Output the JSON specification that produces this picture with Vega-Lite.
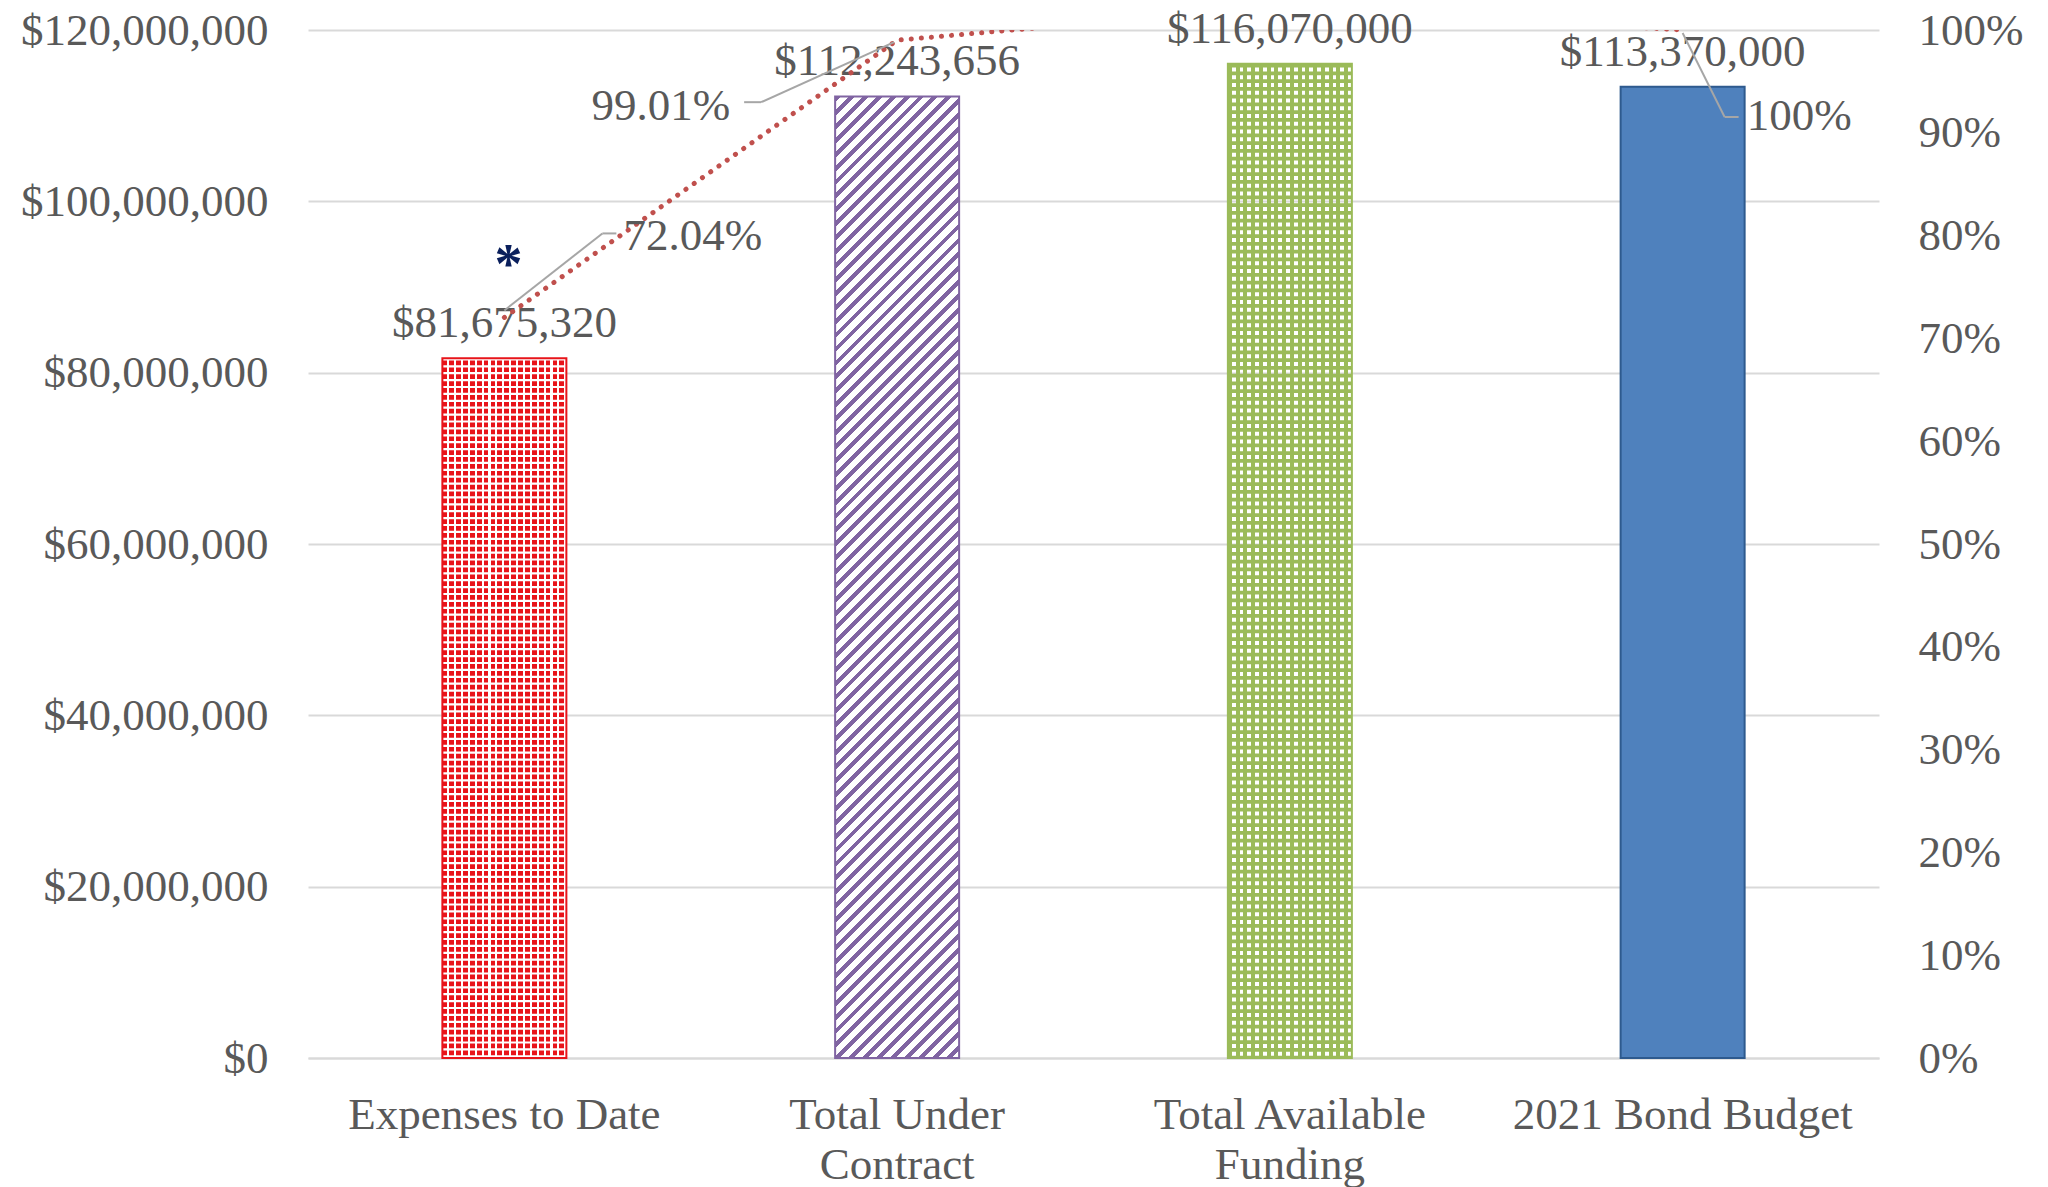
{
"$schema":"https://vega.github.io/schema/vega-lite/v6.json",
"width":1571,"height":1028,"autosize":"none",
"padding":{"left":308,"top":30,"right":169,"bottom":129},
"background":"white",
"config":{"view":{"stroke":null},"font":"Liberation Serif"},
"data":{"values":[
{"idx":1,"cat":"Expenses to Date","amount":81675320,"pct":0.7204,"pctLabel":"72.04%"},
{"idx":2,"cat":"Total Under Contract","amount":112243656,"pct":0.9901,"pctLabel":"99.01%"},
{"idx":3,"cat":"Total Available Funding","amount":116070000,"pct":1.0238,"pctLabel":""},
{"idx":4,"cat":"2021 Bond Budget","amount":113370000,"pct":1.0,"pctLabel":"100%"}
]},
"encoding":{"x":{"field":"cat","type":"nominal",
"scale":{"type":"band","domain":["Expenses to Date","Total Under Contract","Total Available Funding","2021 Bond Budget"],"paddingInner":0.1,"paddingOuter":0.05},
"axis":{"title":null,"labelAngle":0,"labelFont":"Liberation Serif","labelFontSize":45,"labelColor":"#595959","labelPadding":34,"labelLineHeight":50,"ticks":false,"domain":true,"domainColor":"#D9D9D9","domainWidth":2,"labelLimit":600,"labelOverlap":false,
"labelExpr":"datum.value == 'Total Under Contract' ? ['Total Under', 'Contract'] : datum.value == 'Total Available Funding' ? ['Total Available', 'Funding'] : datum.label"}}},
"layer":[
{"encoding":{"y":{"field":"amount","type":"quantitative","scale":{"domain":[0,120000000],"nice":false,"zero":true},
 "axis":{"title":null,"values":[0,20000000,40000000,60000000,80000000,100000000,120000000],"format":"$,.0f","labelFont":"Liberation Serif","labelFontSize":45,"labelColor":"#595959","labelPadding":40,"ticks":false,"domain":false,"grid":true,"gridColor":"#D9D9D9","gridWidth":2,"labelLimit":600,"labelOverlap":false,"labelFlush":false}}},
"layer":[
{"transform":[{"filter":"datum.cat == 'Expenses to Date'"}],
 "mark":{"type":"bar","size":124,"fill":"#E8141A"}},
{"transform":[{"filter":"datum.cat == 'Expenses to Date'"}],
 "mark":{"type":"rule","stroke":"#ffffff","strokeWidth":124,"strokeDash":[2.2,4.7]},
 "encoding":{"y2":{"datum":0}}},
{"transform":[{"filter":"datum.cat == 'Expenses to Date'"}],
 "mark":{"type":"bar","size":124,"fill":{"gradient":"linear","x1":0,"y1":0,"x2":1,"y2":0,"stops":[
{"offset":0,"color":"rgba(255,255,255,0)"},{"offset":0.0378,"color":"rgba(255,255,255,0)"},{"offset":0.0378,"color":"#fff"},{"offset":0.0556,"color":"#fff"},
{"offset":0.0556,"color":"rgba(255,255,255,0)"},{"offset":0.0933,"color":"rgba(255,255,255,0)"},{"offset":0.0933,"color":"#fff"},{"offset":0.1111,"color":"#fff"},
{"offset":0.1111,"color":"rgba(255,255,255,0)"},{"offset":0.1489,"color":"rgba(255,255,255,0)"},{"offset":0.1489,"color":"#fff"},{"offset":0.1667,"color":"#fff"},
{"offset":0.1667,"color":"rgba(255,255,255,0)"},{"offset":0.2044,"color":"rgba(255,255,255,0)"},{"offset":0.2044,"color":"#fff"},{"offset":0.2222,"color":"#fff"},
{"offset":0.2222,"color":"rgba(255,255,255,0)"},{"offset":0.26,"color":"rgba(255,255,255,0)"},{"offset":0.26,"color":"#fff"},{"offset":0.2778,"color":"#fff"},
{"offset":0.2778,"color":"rgba(255,255,255,0)"},{"offset":0.3156,"color":"rgba(255,255,255,0)"},{"offset":0.3156,"color":"#fff"},{"offset":0.3333,"color":"#fff"},
{"offset":0.3333,"color":"rgba(255,255,255,0)"},{"offset":0.3711,"color":"rgba(255,255,255,0)"},{"offset":0.3711,"color":"#fff"},{"offset":0.3889,"color":"#fff"},
{"offset":0.3889,"color":"rgba(255,255,255,0)"},{"offset":0.4267,"color":"rgba(255,255,255,0)"},{"offset":0.4267,"color":"#fff"},{"offset":0.4444,"color":"#fff"},
{"offset":0.4444,"color":"rgba(255,255,255,0)"},{"offset":0.4822,"color":"rgba(255,255,255,0)"},{"offset":0.4822,"color":"#fff"},{"offset":0.5,"color":"#fff"},
{"offset":0.5,"color":"rgba(255,255,255,0)"},{"offset":0.5378,"color":"rgba(255,255,255,0)"},{"offset":0.5378,"color":"#fff"},{"offset":0.5556,"color":"#fff"},
{"offset":0.5556,"color":"rgba(255,255,255,0)"},{"offset":0.5933,"color":"rgba(255,255,255,0)"},{"offset":0.5933,"color":"#fff"},{"offset":0.6111,"color":"#fff"},
{"offset":0.6111,"color":"rgba(255,255,255,0)"},{"offset":0.6489,"color":"rgba(255,255,255,0)"},{"offset":0.6489,"color":"#fff"},{"offset":0.6667,"color":"#fff"},
{"offset":0.6667,"color":"rgba(255,255,255,0)"},{"offset":0.7044,"color":"rgba(255,255,255,0)"},{"offset":0.7044,"color":"#fff"},{"offset":0.7222,"color":"#fff"},
{"offset":0.7222,"color":"rgba(255,255,255,0)"},{"offset":0.76,"color":"rgba(255,255,255,0)"},{"offset":0.76,"color":"#fff"},{"offset":0.7778,"color":"#fff"},
{"offset":0.7778,"color":"rgba(255,255,255,0)"},{"offset":0.8156,"color":"rgba(255,255,255,0)"},{"offset":0.8156,"color":"#fff"},{"offset":0.8333,"color":"#fff"},
{"offset":0.8333,"color":"rgba(255,255,255,0)"},{"offset":0.8711,"color":"rgba(255,255,255,0)"},{"offset":0.8711,"color":"#fff"},{"offset":0.8889,"color":"#fff"},
{"offset":0.8889,"color":"rgba(255,255,255,0)"},{"offset":0.9267,"color":"rgba(255,255,255,0)"},{"offset":0.9267,"color":"#fff"},{"offset":0.9444,"color":"#fff"},
{"offset":0.9444,"color":"rgba(255,255,255,0)"},{"offset":0.9822,"color":"rgba(255,255,255,0)"},{"offset":0.9822,"color":"#fff"},{"offset":1,"color":"#fff"}
]}}},
{"transform":[{"filter":"datum.cat == 'Total Under Contract'"}],
 "mark":{"type":"bar","size":124,"fill":{"gradient":"linear","x1":0,"y1":0,"x2":0.1432,"y2":1.1105,"stops":[
{"offset":0,"color":"#8064a2"},{"offset":0.0054,"color":"#8064a2"},{"offset":0.0054,"color":"#fff"},{"offset":0.0128,"color":"#fff"},
{"offset":0.0128,"color":"#8064a2"},{"offset":0.0182,"color":"#8064a2"},{"offset":0.0182,"color":"#fff"},{"offset":0.0256,"color":"#fff"},
{"offset":0.0256,"color":"#8064a2"},{"offset":0.031,"color":"#8064a2"},{"offset":0.031,"color":"#fff"},{"offset":0.0385,"color":"#fff"},
{"offset":0.0385,"color":"#8064a2"},{"offset":0.0439,"color":"#8064a2"},{"offset":0.0439,"color":"#fff"},{"offset":0.0513,"color":"#fff"},
{"offset":0.0513,"color":"#8064a2"},{"offset":0.0567,"color":"#8064a2"},{"offset":0.0567,"color":"#fff"},{"offset":0.0641,"color":"#fff"},
{"offset":0.0641,"color":"#8064a2"},{"offset":0.0695,"color":"#8064a2"},{"offset":0.0695,"color":"#fff"},{"offset":0.0769,"color":"#fff"},
{"offset":0.0769,"color":"#8064a2"},{"offset":0.0823,"color":"#8064a2"},{"offset":0.0823,"color":"#fff"},{"offset":0.0897,"color":"#fff"},
{"offset":0.0897,"color":"#8064a2"},{"offset":0.0951,"color":"#8064a2"},{"offset":0.0951,"color":"#fff"},{"offset":0.1026,"color":"#fff"},
{"offset":0.1026,"color":"#8064a2"},{"offset":0.108,"color":"#8064a2"},{"offset":0.108,"color":"#fff"},{"offset":0.1154,"color":"#fff"},
{"offset":0.1154,"color":"#8064a2"},{"offset":0.1208,"color":"#8064a2"},{"offset":0.1208,"color":"#fff"},{"offset":0.1282,"color":"#fff"},
{"offset":0.1282,"color":"#8064a2"},{"offset":0.1336,"color":"#8064a2"},{"offset":0.1336,"color":"#fff"},{"offset":0.141,"color":"#fff"},
{"offset":0.141,"color":"#8064a2"},{"offset":0.1464,"color":"#8064a2"},{"offset":0.1464,"color":"#fff"},{"offset":0.1538,"color":"#fff"},
{"offset":0.1538,"color":"#8064a2"},{"offset":0.1592,"color":"#8064a2"},{"offset":0.1592,"color":"#fff"},{"offset":0.1667,"color":"#fff"},
{"offset":0.1667,"color":"#8064a2"},{"offset":0.1721,"color":"#8064a2"},{"offset":0.1721,"color":"#fff"},{"offset":0.1795,"color":"#fff"},
{"offset":0.1795,"color":"#8064a2"},{"offset":0.1849,"color":"#8064a2"},{"offset":0.1849,"color":"#fff"},{"offset":0.1923,"color":"#fff"},
{"offset":0.1923,"color":"#8064a2"},{"offset":0.1977,"color":"#8064a2"},{"offset":0.1977,"color":"#fff"},{"offset":0.2051,"color":"#fff"},
{"offset":0.2051,"color":"#8064a2"},{"offset":0.2105,"color":"#8064a2"},{"offset":0.2105,"color":"#fff"},{"offset":0.2179,"color":"#fff"},
{"offset":0.2179,"color":"#8064a2"},{"offset":0.2233,"color":"#8064a2"},{"offset":0.2233,"color":"#fff"},{"offset":0.2308,"color":"#fff"},
{"offset":0.2308,"color":"#8064a2"},{"offset":0.2362,"color":"#8064a2"},{"offset":0.2362,"color":"#fff"},{"offset":0.2436,"color":"#fff"},
{"offset":0.2436,"color":"#8064a2"},{"offset":0.249,"color":"#8064a2"},{"offset":0.249,"color":"#fff"},{"offset":0.2564,"color":"#fff"},
{"offset":0.2564,"color":"#8064a2"},{"offset":0.2618,"color":"#8064a2"},{"offset":0.2618,"color":"#fff"},{"offset":0.2692,"color":"#fff"},
{"offset":0.2692,"color":"#8064a2"},{"offset":0.2746,"color":"#8064a2"},{"offset":0.2746,"color":"#fff"},{"offset":0.2821,"color":"#fff"},
{"offset":0.2821,"color":"#8064a2"},{"offset":0.2875,"color":"#8064a2"},{"offset":0.2875,"color":"#fff"},{"offset":0.2949,"color":"#fff"},
{"offset":0.2949,"color":"#8064a2"},{"offset":0.3003,"color":"#8064a2"},{"offset":0.3003,"color":"#fff"},{"offset":0.3077,"color":"#fff"},
{"offset":0.3077,"color":"#8064a2"},{"offset":0.3131,"color":"#8064a2"},{"offset":0.3131,"color":"#fff"},{"offset":0.3205,"color":"#fff"},
{"offset":0.3205,"color":"#8064a2"},{"offset":0.3259,"color":"#8064a2"},{"offset":0.3259,"color":"#fff"},{"offset":0.3333,"color":"#fff"},
{"offset":0.3333,"color":"#8064a2"},{"offset":0.3387,"color":"#8064a2"},{"offset":0.3387,"color":"#fff"},{"offset":0.3462,"color":"#fff"},
{"offset":0.3462,"color":"#8064a2"},{"offset":0.3516,"color":"#8064a2"},{"offset":0.3516,"color":"#fff"},{"offset":0.359,"color":"#fff"},
{"offset":0.359,"color":"#8064a2"},{"offset":0.3644,"color":"#8064a2"},{"offset":0.3644,"color":"#fff"},{"offset":0.3718,"color":"#fff"},
{"offset":0.3718,"color":"#8064a2"},{"offset":0.3772,"color":"#8064a2"},{"offset":0.3772,"color":"#fff"},{"offset":0.3846,"color":"#fff"},
{"offset":0.3846,"color":"#8064a2"},{"offset":0.39,"color":"#8064a2"},{"offset":0.39,"color":"#fff"},{"offset":0.3974,"color":"#fff"},
{"offset":0.3974,"color":"#8064a2"},{"offset":0.4028,"color":"#8064a2"},{"offset":0.4028,"color":"#fff"},{"offset":0.4103,"color":"#fff"},
{"offset":0.4103,"color":"#8064a2"},{"offset":0.4157,"color":"#8064a2"},{"offset":0.4157,"color":"#fff"},{"offset":0.4231,"color":"#fff"},
{"offset":0.4231,"color":"#8064a2"},{"offset":0.4285,"color":"#8064a2"},{"offset":0.4285,"color":"#fff"},{"offset":0.4359,"color":"#fff"},
{"offset":0.4359,"color":"#8064a2"},{"offset":0.4413,"color":"#8064a2"},{"offset":0.4413,"color":"#fff"},{"offset":0.4487,"color":"#fff"},
{"offset":0.4487,"color":"#8064a2"},{"offset":0.4541,"color":"#8064a2"},{"offset":0.4541,"color":"#fff"},{"offset":0.4615,"color":"#fff"},
{"offset":0.4615,"color":"#8064a2"},{"offset":0.4669,"color":"#8064a2"},{"offset":0.4669,"color":"#fff"},{"offset":0.4744,"color":"#fff"},
{"offset":0.4744,"color":"#8064a2"},{"offset":0.4798,"color":"#8064a2"},{"offset":0.4798,"color":"#fff"},{"offset":0.4872,"color":"#fff"},
{"offset":0.4872,"color":"#8064a2"},{"offset":0.4926,"color":"#8064a2"},{"offset":0.4926,"color":"#fff"},{"offset":0.5,"color":"#fff"},
{"offset":0.5,"color":"#8064a2"},{"offset":0.5054,"color":"#8064a2"},{"offset":0.5054,"color":"#fff"},{"offset":0.5128,"color":"#fff"},
{"offset":0.5128,"color":"#8064a2"},{"offset":0.5182,"color":"#8064a2"},{"offset":0.5182,"color":"#fff"},{"offset":0.5256,"color":"#fff"},
{"offset":0.5256,"color":"#8064a2"},{"offset":0.531,"color":"#8064a2"},{"offset":0.531,"color":"#fff"},{"offset":0.5385,"color":"#fff"},
{"offset":0.5385,"color":"#8064a2"},{"offset":0.5439,"color":"#8064a2"},{"offset":0.5439,"color":"#fff"},{"offset":0.5513,"color":"#fff"},
{"offset":0.5513,"color":"#8064a2"},{"offset":0.5567,"color":"#8064a2"},{"offset":0.5567,"color":"#fff"},{"offset":0.5641,"color":"#fff"},
{"offset":0.5641,"color":"#8064a2"},{"offset":0.5695,"color":"#8064a2"},{"offset":0.5695,"color":"#fff"},{"offset":0.5769,"color":"#fff"},
{"offset":0.5769,"color":"#8064a2"},{"offset":0.5823,"color":"#8064a2"},{"offset":0.5823,"color":"#fff"},{"offset":0.5897,"color":"#fff"},
{"offset":0.5897,"color":"#8064a2"},{"offset":0.5951,"color":"#8064a2"},{"offset":0.5951,"color":"#fff"},{"offset":0.6026,"color":"#fff"},
{"offset":0.6026,"color":"#8064a2"},{"offset":0.608,"color":"#8064a2"},{"offset":0.608,"color":"#fff"},{"offset":0.6154,"color":"#fff"},
{"offset":0.6154,"color":"#8064a2"},{"offset":0.6208,"color":"#8064a2"},{"offset":0.6208,"color":"#fff"},{"offset":0.6282,"color":"#fff"},
{"offset":0.6282,"color":"#8064a2"},{"offset":0.6336,"color":"#8064a2"},{"offset":0.6336,"color":"#fff"},{"offset":0.641,"color":"#fff"},
{"offset":0.641,"color":"#8064a2"},{"offset":0.6464,"color":"#8064a2"},{"offset":0.6464,"color":"#fff"},{"offset":0.6538,"color":"#fff"},
{"offset":0.6538,"color":"#8064a2"},{"offset":0.6592,"color":"#8064a2"},{"offset":0.6592,"color":"#fff"},{"offset":0.6667,"color":"#fff"},
{"offset":0.6667,"color":"#8064a2"},{"offset":0.6721,"color":"#8064a2"},{"offset":0.6721,"color":"#fff"},{"offset":0.6795,"color":"#fff"},
{"offset":0.6795,"color":"#8064a2"},{"offset":0.6849,"color":"#8064a2"},{"offset":0.6849,"color":"#fff"},{"offset":0.6923,"color":"#fff"},
{"offset":0.6923,"color":"#8064a2"},{"offset":0.6977,"color":"#8064a2"},{"offset":0.6977,"color":"#fff"},{"offset":0.7051,"color":"#fff"},
{"offset":0.7051,"color":"#8064a2"},{"offset":0.7105,"color":"#8064a2"},{"offset":0.7105,"color":"#fff"},{"offset":0.7179,"color":"#fff"},
{"offset":0.7179,"color":"#8064a2"},{"offset":0.7233,"color":"#8064a2"},{"offset":0.7233,"color":"#fff"},{"offset":0.7308,"color":"#fff"},
{"offset":0.7308,"color":"#8064a2"},{"offset":0.7362,"color":"#8064a2"},{"offset":0.7362,"color":"#fff"},{"offset":0.7436,"color":"#fff"},
{"offset":0.7436,"color":"#8064a2"},{"offset":0.749,"color":"#8064a2"},{"offset":0.749,"color":"#fff"},{"offset":0.7564,"color":"#fff"},
{"offset":0.7564,"color":"#8064a2"},{"offset":0.7618,"color":"#8064a2"},{"offset":0.7618,"color":"#fff"},{"offset":0.7692,"color":"#fff"},
{"offset":0.7692,"color":"#8064a2"},{"offset":0.7746,"color":"#8064a2"},{"offset":0.7746,"color":"#fff"},{"offset":0.7821,"color":"#fff"},
{"offset":0.7821,"color":"#8064a2"},{"offset":0.7875,"color":"#8064a2"},{"offset":0.7875,"color":"#fff"},{"offset":0.7949,"color":"#fff"},
{"offset":0.7949,"color":"#8064a2"},{"offset":0.8003,"color":"#8064a2"},{"offset":0.8003,"color":"#fff"},{"offset":0.8077,"color":"#fff"},
{"offset":0.8077,"color":"#8064a2"},{"offset":0.8131,"color":"#8064a2"},{"offset":0.8131,"color":"#fff"},{"offset":0.8205,"color":"#fff"},
{"offset":0.8205,"color":"#8064a2"},{"offset":0.8259,"color":"#8064a2"},{"offset":0.8259,"color":"#fff"},{"offset":0.8333,"color":"#fff"},
{"offset":0.8333,"color":"#8064a2"},{"offset":0.8387,"color":"#8064a2"},{"offset":0.8387,"color":"#fff"},{"offset":0.8462,"color":"#fff"},
{"offset":0.8462,"color":"#8064a2"},{"offset":0.8516,"color":"#8064a2"},{"offset":0.8516,"color":"#fff"},{"offset":0.859,"color":"#fff"},
{"offset":0.859,"color":"#8064a2"},{"offset":0.8644,"color":"#8064a2"},{"offset":0.8644,"color":"#fff"},{"offset":0.8718,"color":"#fff"},
{"offset":0.8718,"color":"#8064a2"},{"offset":0.8772,"color":"#8064a2"},{"offset":0.8772,"color":"#fff"},{"offset":0.8846,"color":"#fff"},
{"offset":0.8846,"color":"#8064a2"},{"offset":0.89,"color":"#8064a2"},{"offset":0.89,"color":"#fff"},{"offset":0.8974,"color":"#fff"},
{"offset":0.8974,"color":"#8064a2"},{"offset":0.9028,"color":"#8064a2"},{"offset":0.9028,"color":"#fff"},{"offset":0.9103,"color":"#fff"},
{"offset":0.9103,"color":"#8064a2"},{"offset":0.9157,"color":"#8064a2"},{"offset":0.9157,"color":"#fff"},{"offset":0.9231,"color":"#fff"},
{"offset":0.9231,"color":"#8064a2"},{"offset":0.9285,"color":"#8064a2"},{"offset":0.9285,"color":"#fff"},{"offset":0.9359,"color":"#fff"},
{"offset":0.9359,"color":"#8064a2"},{"offset":0.9413,"color":"#8064a2"},{"offset":0.9413,"color":"#fff"},{"offset":0.9487,"color":"#fff"},
{"offset":0.9487,"color":"#8064a2"},{"offset":0.9541,"color":"#8064a2"},{"offset":0.9541,"color":"#fff"},{"offset":0.9615,"color":"#fff"},
{"offset":0.9615,"color":"#8064a2"},{"offset":0.9669,"color":"#8064a2"},{"offset":0.9669,"color":"#fff"},{"offset":0.9744,"color":"#fff"},
{"offset":0.9744,"color":"#8064a2"},{"offset":0.9798,"color":"#8064a2"},{"offset":0.9798,"color":"#fff"},{"offset":0.9872,"color":"#fff"},
{"offset":0.9872,"color":"#8064a2"},{"offset":0.9926,"color":"#8064a2"},{"offset":0.9926,"color":"#fff"},{"offset":1,"color":"#fff"}
]}}},
{"transform":[{"filter":"datum.cat == 'Total Available Funding'"}],
 "mark":{"type":"rule","stroke":"#9bbb59","strokeWidth":124,"strokeDash":[3.9,3.85]},
 "encoding":{"y2":{"datum":0}}},
{"transform":[{"filter":"datum.cat == 'Total Available Funding'"}],
 "mark":{"type":"bar","size":124,"fill":{"gradient":"linear","x1":0,"y1":0,"x2":1,"y2":0,"stops":[
{"offset":0,"color":"#9bbb59"},{"offset":0.0313,"color":"#9bbb59"},{"offset":0.0313,"color":"rgba(155,187,89,0)"},{"offset":0.0625,"color":"rgba(155,187,89,0)"},
{"offset":0.0625,"color":"#9bbb59"},{"offset":0.0938,"color":"#9bbb59"},{"offset":0.0938,"color":"rgba(155,187,89,0)"},{"offset":0.125,"color":"rgba(155,187,89,0)"},
{"offset":0.125,"color":"#9bbb59"},{"offset":0.1563,"color":"#9bbb59"},{"offset":0.1563,"color":"rgba(155,187,89,0)"},{"offset":0.1875,"color":"rgba(155,187,89,0)"},
{"offset":0.1875,"color":"#9bbb59"},{"offset":0.2188,"color":"#9bbb59"},{"offset":0.2188,"color":"rgba(155,187,89,0)"},{"offset":0.25,"color":"rgba(155,187,89,0)"},
{"offset":0.25,"color":"#9bbb59"},{"offset":0.2813,"color":"#9bbb59"},{"offset":0.2813,"color":"rgba(155,187,89,0)"},{"offset":0.3125,"color":"rgba(155,187,89,0)"},
{"offset":0.3125,"color":"#9bbb59"},{"offset":0.3438,"color":"#9bbb59"},{"offset":0.3438,"color":"rgba(155,187,89,0)"},{"offset":0.375,"color":"rgba(155,187,89,0)"},
{"offset":0.375,"color":"#9bbb59"},{"offset":0.4063,"color":"#9bbb59"},{"offset":0.4063,"color":"rgba(155,187,89,0)"},{"offset":0.4375,"color":"rgba(155,187,89,0)"},
{"offset":0.4375,"color":"#9bbb59"},{"offset":0.4688,"color":"#9bbb59"},{"offset":0.4688,"color":"rgba(155,187,89,0)"},{"offset":0.5,"color":"rgba(155,187,89,0)"},
{"offset":0.5,"color":"#9bbb59"},{"offset":0.5313,"color":"#9bbb59"},{"offset":0.5313,"color":"rgba(155,187,89,0)"},{"offset":0.5625,"color":"rgba(155,187,89,0)"},
{"offset":0.5625,"color":"#9bbb59"},{"offset":0.5938,"color":"#9bbb59"},{"offset":0.5938,"color":"rgba(155,187,89,0)"},{"offset":0.625,"color":"rgba(155,187,89,0)"},
{"offset":0.625,"color":"#9bbb59"},{"offset":0.6563,"color":"#9bbb59"},{"offset":0.6563,"color":"rgba(155,187,89,0)"},{"offset":0.6875,"color":"rgba(155,187,89,0)"},
{"offset":0.6875,"color":"#9bbb59"},{"offset":0.7188,"color":"#9bbb59"},{"offset":0.7188,"color":"rgba(155,187,89,0)"},{"offset":0.75,"color":"rgba(155,187,89,0)"},
{"offset":0.75,"color":"#9bbb59"},{"offset":0.7813,"color":"#9bbb59"},{"offset":0.7813,"color":"rgba(155,187,89,0)"},{"offset":0.8125,"color":"rgba(155,187,89,0)"},
{"offset":0.8125,"color":"#9bbb59"},{"offset":0.8438,"color":"#9bbb59"},{"offset":0.8438,"color":"rgba(155,187,89,0)"},{"offset":0.875,"color":"rgba(155,187,89,0)"},
{"offset":0.875,"color":"#9bbb59"},{"offset":0.9063,"color":"#9bbb59"},{"offset":0.9063,"color":"rgba(155,187,89,0)"},{"offset":0.9375,"color":"rgba(155,187,89,0)"},
{"offset":0.9375,"color":"#9bbb59"},{"offset":0.9688,"color":"#9bbb59"},{"offset":0.9688,"color":"rgba(155,187,89,0)"},{"offset":1,"color":"rgba(155,187,89,0)"}
]}}},
{"transform":[{"filter":"datum.cat == '2021 Bond Budget'"}],
 "mark":{"type":"bar","size":124,"fill":"#4F81BD"}},
{"mark":{"type":"bar","size":124,"fill":"transparent","strokeWidth":2},
 "encoding":{"stroke":{"field":"cat","type":"nominal","scale":{"domain":["Expenses to Date","Total Under Contract","Total Available Funding","2021 Bond Budget"],"range":["#E8141A","#8064A2","#9BBB59","#2E5A8E"]},"legend":null}}},
{"mark":{"type":"text","baseline":"alphabetic","dy":-21,"fontSize":45,"font":"Liberation Serif","fill":"#595959"},
 "encoding":{"text":{"field":"amount","type":"quantitative","format":"$,.0f"}}},
{"transform":[{"filter":"datum.cat == 'Expenses to Date'"}],
 "mark":{"type":"text","baseline":"alphabetic","dy":-75,"dx":4,"fontSize":56,"fontWeight":"bold","font":"Liberation Serif","fill":"#0A1F5C"},
 "encoding":{"text":{"value":"*"}}}
]},
{"encoding":{"y":{"field":"pct","type":"quantitative","scale":{"domain":[0,1],"nice":false,"zero":true},
 "axis":{"orient":"right","title":null,"values":[0,0.1,0.2,0.3,0.4,0.5,0.6,0.7,0.8,0.9,1],"format":".0%","labelFont":"Liberation Serif","labelFontSize":45,"labelColor":"#595959","labelPadding":39,"labelAlign":"left","ticks":false,"domain":false,"grid":false,"labelLimit":600,"labelOverlap":false,"labelFlush":false}}},
"layer":[
{"mark":{"type":"line","stroke":"#C0504D","strokeWidth":5,"strokeDash":[0.1,10],"strokeCap":"round","clip":true},
 "encoding":{"order":{"field":"idx","type":"quantitative"}}},
{"transform":[{"filter":"datum.cat == 'Expenses to Date'"}],
 "mark":{"type":"rule","stroke":"#A6A6A6","strokeWidth":2,"yOffset":-7,"x2Offset":98,"y2Offset":-84},
 "encoding":{"x2":{"field":"cat"},"y2":{"field":"pct"}}},
{"transform":[{"filter":"datum.cat == 'Expenses to Date'"}],
 "mark":{"type":"rule","stroke":"#A6A6A6","strokeWidth":2,"xOffset":98,"yOffset":-84,"x2Offset":112,"y2Offset":-84},
 "encoding":{"x2":{"field":"cat"},"y2":{"field":"pct"}}},
{"transform":[{"filter":"datum.cat == 'Total Under Contract'"}],
 "mark":{"type":"rule","stroke":"#A6A6A6","strokeWidth":2,"xOffset":-3,"yOffset":2,"x2Offset":-136,"y2Offset":62},
 "encoding":{"x2":{"field":"cat"},"y2":{"field":"pct"}}},
{"transform":[{"filter":"datum.cat == 'Total Under Contract'"}],
 "mark":{"type":"rule","stroke":"#A6A6A6","strokeWidth":2,"xOffset":-136,"yOffset":62,"x2Offset":-153,"y2Offset":62},
 "encoding":{"x2":{"field":"cat"},"y2":{"field":"pct"}}},
{"transform":[{"filter":"datum.cat == '2021 Bond Budget'"}],
 "mark":{"type":"rule","stroke":"#A6A6A6","strokeWidth":2,"yOffset":3,"x2Offset":42,"y2Offset":87},
 "encoding":{"x2":{"field":"cat"},"y2":{"field":"pct"}}},
{"transform":[{"filter":"datum.cat == '2021 Bond Budget'"}],
 "mark":{"type":"rule","stroke":"#A6A6A6","strokeWidth":2,"xOffset":42,"yOffset":87,"x2Offset":56,"y2Offset":87},
 "encoding":{"x2":{"field":"cat"},"y2":{"field":"pct"}}},
{"transform":[{"filter":"datum.cat == 'Expenses to Date'"}],
 "mark":{"type":"text","align":"left","baseline":"alphabetic","dx":119,"dy":-67,"fontSize":45,"font":"Liberation Serif","fill":"#595959"},
 "encoding":{"text":{"field":"pctLabel"}}},
{"transform":[{"filter":"datum.cat == 'Total Under Contract'"}],
 "mark":{"type":"text","align":"right","baseline":"alphabetic","dx":-167,"dy":80,"fontSize":45,"font":"Liberation Serif","fill":"#595959"},
 "encoding":{"text":{"field":"pctLabel"}}},
{"transform":[{"filter":"datum.cat == '2021 Bond Budget'"}],
 "mark":{"type":"text","align":"left","baseline":"alphabetic","dx":64,"dy":100,"fontSize":45,"font":"Liberation Serif","fill":"#595959"},
 "encoding":{"text":{"field":"pctLabel"}}}
]}
],
"resolve":{"scale":{"y":"independent"}}
}
